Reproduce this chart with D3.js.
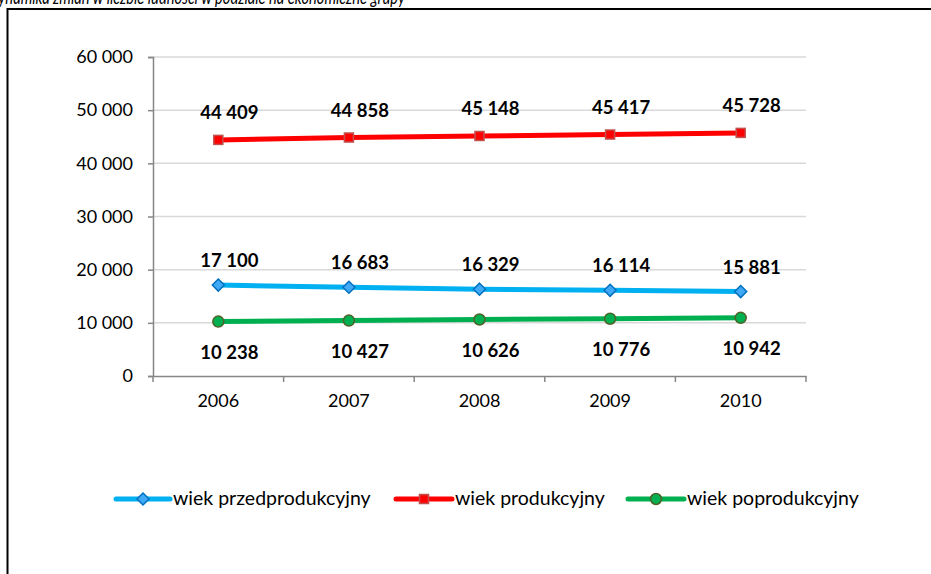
<!DOCTYPE html>
<html><head><meta charset="utf-8">
<script src="https://cdn.jsdelivr.net/npm/d3@7"></script>
<style>body{margin:0;background:#fff}svg{display:block}text{font-family:Lato,"Open Sans",sans-serif}</style>
</head><body>
<svg id="c" width="931" height="574"></svg>
<script>
const title = "Dynamika zmian w liczbie ludności w podziale na ekonomiczne grupy";
const years = ["2006","2007","2008","2009","2010"];
const przed = [17100,16683,16329,16114,15881];
const prod = [44409,44858,45148,45417,45728];
const popr = [10238,10427,10626,10776,10942];
const yTicks = [0,10000,20000,30000,40000,50000,60000];
const seriesNames = ["wiek przedprodukcyjny","wiek produkcyjny","wiek poprodukcyjny"];

const svg = d3.select("#c");
const fmt = v => d3.format(",")(v).replace(/,/g, " ");

svg.append("text").attr("x",-12).attr("y",4).attr("text-anchor","start")
  .attr("textLength",417).attr("lengthAdjust","spacingAndGlyphs")
  .attr("font-style","italic").attr("font-size",19).attr("fill","#000").text(title);
svg.append("path").attr("d","M7.5,575 V9 H935").attr("fill","none").attr("stroke","#000").attr("stroke-width",2);

const x = d3.scaleBand().domain(years).range([153,806]);
const y = d3.scaleLinear().domain([0,60000]).range([376,57]);

svg.append("g").selectAll("line").data(yTicks.filter(d=>d>0)).join("line")
  .attr("x1",153).attr("x2",806).attr("y1",d=>y(d)).attr("y2",d=>y(d))
  .attr("stroke","#d9d9d9").attr("stroke-width",1.5);

const yAxis = svg.append("g").attr("transform","translate(153,0)")
  .call(d3.axisLeft(y).tickValues(yTicks).tickFormat(fmt).tickSize(5).tickPadding(15));
const xAxis = svg.append("g").attr("transform","translate(0,376)")
  .call(d3.axisBottom(x).tickSize(0).tickPadding(18));
const bounds = years.map(d=>x(d)).concat([x(years[years.length-1])+x.bandwidth()]);
xAxis.selectAll(".bt").data(bounds).join("line").attr("class","bt")
  .attr("x1",d=>d).attr("x2",d=>d).attr("y1",0).attr("y2",6).attr("stroke","#868686").attr("stroke-width",1.5);
[yAxis,xAxis].forEach(a=>{
  a.select(".domain").attr("stroke","#868686").attr("stroke-width",1.5);
  a.selectAll(".tick line").attr("stroke","#868686").attr("stroke-width",1.5);
  a.selectAll("text").attr("font-size",18).attr("fill","#000").attr("font-family","Lato");
});

const cx = d => x(d)+x.bandwidth()/2;
const line = d3.line().x((d,i)=>cx(years[i])).y(d=>y(d));
const series = [
  {vals:przed,color:"#00b0f0",marker:"diamond",fill:"#3fa9f5",stroke:"#0070c0",lab:-18},
  {vals:prod,color:"#ff0000",marker:"square",fill:"#ff0000",stroke:"#c0504d",lab:-21},
  {vals:popr,color:"#00b050",marker:"circle",fill:"#00b050",stroke:"#4f6228",lab:37}
];
function drawMarker(g, kind, s){
  if(kind==="diamond") g.append("path").attr("d","M0,-6L6,0L0,6L-6,0Z").attr("fill",s.fill).attr("stroke",s.stroke).attr("stroke-width",1.5);
  else if(kind==="square") g.append("rect").attr("x",-4.5).attr("y",-4.5).attr("width",9).attr("height",9).attr("fill",s.fill).attr("stroke",s.stroke).attr("stroke-width",1.5);
  else g.append("circle").attr("r",5.5).attr("fill",s.fill).attr("stroke",s.stroke).attr("stroke-width",1.5);
}
series.forEach(s=>{
  svg.append("path").datum(s.vals).attr("d",line).attr("fill","none").attr("stroke",s.color).attr("stroke-width",5).attr("stroke-linecap","round");
  s.vals.forEach((v,i)=>{
    const g = svg.append("g").attr("transform",`translate(${cx(years[i])},${y(v)})`);
    drawMarker(g, s.marker, s);
    svg.append("text").attr("x",cx(years[i])+11).attr("y",y(v)+s.lab).attr("text-anchor","middle")
      .attr("font-weight","bold").attr("font-size",18.5).text(fmt(v));
  });
});

const leg = [
  {x1:116,x2:170,tx:173},
  {x1:396,x2:452,tx:455},
  {x1:628,x2:684,tx:687}
];
series.forEach((s,i)=>{
  const L = leg[i], ly = 499;
  svg.append("line").attr("x1",L.x1).attr("x2",L.x2).attr("y1",ly).attr("y2",ly).attr("stroke",s.color).attr("stroke-width",5).attr("stroke-linecap","round");
  const g = svg.append("g").attr("transform",`translate(${(L.x1+L.x2)/2},${ly})`);
  drawMarker(g, s.marker, s);
  svg.append("text").attr("x",L.tx).attr("y",ly+6).attr("font-size",19.5).text(seriesNames[i]);
});
</script>
</body></html>
